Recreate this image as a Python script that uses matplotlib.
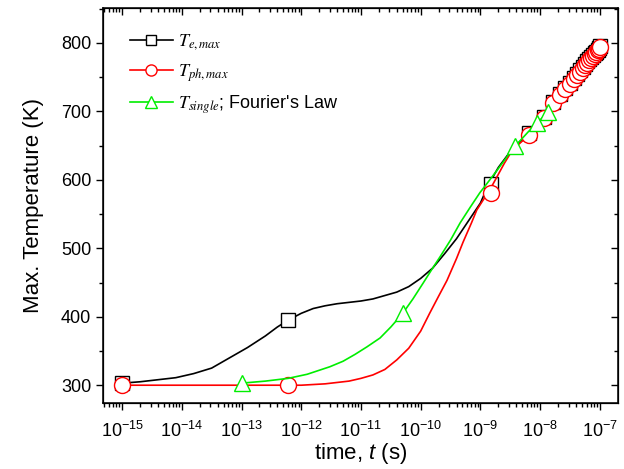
import numpy as np
import matplotlib
matplotlib.use('Agg')
import matplotlib.pyplot as plt
from matplotlib.ticker import FixedLocator, LogFormatterSciNotation, MultipleLocator, NullFormatter

plt.rcParams['font.family'] = ['Liberation Sans', 'DejaVu Sans']
plt.rcParams['mathtext.fontset'] = 'custom'
plt.rcParams['mathtext.rm'] = 'Liberation Sans'
plt.rcParams['mathtext.it'] = 'Liberation Sans:italic'

# curves (log10 time, temperature K)
e_logt = [-15.0, -14.7, -14.4, -14.1, -13.8, -13.5, -13.2, -12.9, -12.6, -12.4,
          -12.22, -12.0, -11.8, -11.6, -11.4, -11.2, -11.0, -10.8, -10.6, -10.4,
          -10.2, -10.0, -9.8, -9.6, -9.4, -9.2, -9.0, -8.87, -8.7, -8.46,
          -8.19, -7.94, -7.78, -7.67, -7.50, -7.38, -7.29, -7.21, -7.15, -7.09,
          -7.04, -6.99]
e_T = [303, 305, 308, 311, 317, 325, 340, 355, 372, 385,
       395, 405, 412, 416, 419, 421, 423, 426, 431, 436,
       444, 456, 471, 492, 514, 540, 566, 592, 618, 646,
       668, 692, 713, 725, 742, 755, 765, 773, 779, 785,
       790, 795]

ph_logt = [-15.0, -12.0, -11.8, -11.6, -11.4, -11.2, -11.0, -10.8, -10.6, -10.4,
           -10.2, -10.0, -9.85, -9.7, -9.56, -9.4, -9.29, -9.15, -9.06, -8.95,
           -8.87, -8.75, -8.6, -8.46, -8.19, -7.94, -7.78, -7.67, -7.50, -7.38,
           -7.29, -7.21, -7.15, -7.09, -7.04, -6.99]
ph_T = [300, 300, 301, 302, 304, 306, 310, 315, 323, 337,
        354, 379, 405, 430, 453, 485, 509, 537, 556, 571,
        581, 600, 624, 644, 665, 690, 712, 724, 740, 753,
        763, 771, 778, 784, 789, 794]

single_logt = [-13.0, -12.6, -12.22, -11.9, -11.52, -11.3, -11.1, -10.9, -10.68, -10.5,
               -10.3, -10.13, -9.96, -9.8, -9.68, -9.5, -9.34, -9.17, -9.01, -8.86,
               -8.72, -8.51, -8.42, -8.2, -8.05, -7.87]
single_T = [303, 306, 310, 316, 327, 335, 345, 356, 369, 385,
            405, 426, 449, 471, 487, 512, 537, 560, 581, 598,
            614, 639, 649, 670, 683, 699]

# marker points
e_mt = [1e-15, 6e-13, 1.5e-9, 6.5e-9, 11.5e-9, 16.5e-9, 21.5e-9, 26.5e-9, 31.5e-9, 36.5e-9,
        41.5e-9, 46.5e-9, 51.5e-9, 56.5e-9, 61.5e-9, 66.5e-9, 71.5e-9, 76.5e-9, 81.5e-9,
        86.5e-9, 91.5e-9, 96.5e-9, 101.5e-9]
e_mT = [303, 395, 594, 668, 692, 713, 725, 734, 742, 749,
        755, 760, 765, 769, 773, 776, 779, 782, 785,
        787, 790, 792, 795]
ph_mt = e_mt
ph_mT = [300, 300, 581, 665, 690, 712, 724, 732, 740, 747,
         753, 758, 763, 767, 771, 775, 778, 781, 784,
         786, 789, 791, 794]
single_mt = [1e-13, 5e-11, 3.8e-9, 8.8e-9, 13.8e-9]
single_mT = [303, 405, 649, 683, 699]

x_decades = list(range(-15, -6))

fig = plt.figure(figsize=(6.24, 4.69), dpi=100)
ax = fig.add_axes([0.165, 0.1407, 0.825, 0.8423])

lw = 1.2
green = '#00ee00'
ax.plot(10.0 ** np.array(e_logt), e_T, color='black', lw=lw)
ax.plot(e_mt, e_mT, ls='none', marker='s', ms=9.5, mfc='white', mec='black', mew=1.0)
ax.plot(10.0 ** np.array(ph_logt), ph_T, color='red', lw=lw)
ax.plot(ph_mt, ph_mT, ls='none', marker='o', ms=11.5, mfc='white', mec='red', mew=1.0)
ax.plot(10.0 ** np.array(single_logt), single_T, color=green, lw=lw)
ax.plot(single_mt, single_mT, ls='none', marker='^', ms=11.5, mfc='white', mec=green, mew=1.0)

# legend handles
h1, = ax.plot([], [], color='black', lw=lw, marker='s', ms=7, mfc='white', mec='black')
h2, = ax.plot([], [], color='red', lw=lw, marker='o', ms=8, mfc='white', mec='red')
h3, = ax.plot([], [], color=green, lw=lw, marker='^', ms=8, mfc='white', mec=green)
ax.legend([h1, h2, h3],
          [r'$T_{e,max}$', r'$T_{ph,max}$', r"$T_{single}$; Fourier's Law"],
          loc='upper left', bbox_to_anchor=(0.02, 0.98), frameon=False,
          prop=dict(size=13, math_fontfamily='stix'),
          handlelength=2.4, handletextpad=0.3, labelspacing=0.55)

ax.set_xscale('log')
ax.set_xlim(10 ** -15.32, 10 ** -6.70)
ax.set_ylim(274, 851)

major_x = [10.0 ** k for k in x_decades]
minor_x = [m * 10.0 ** k for k in range(-16, -6) for m in range(2, 10)
           if 10 ** -15.32 < m * 10.0 ** k < 10 ** -6.70]
ax.xaxis.set_major_locator(FixedLocator(major_x))
ax.xaxis.set_major_formatter(LogFormatterSciNotation())
ax.xaxis.set_minor_locator(FixedLocator(minor_x))
ax.xaxis.set_minor_formatter(NullFormatter())
ax.yaxis.set_major_locator(MultipleLocator(100))
ax.yaxis.set_minor_locator(MultipleLocator(50))

ax.tick_params(which='both', direction='out', labelsize=13, width=1.0)
ax.tick_params(which='major', length=5)
ax.tick_params(which='minor', length=3)
ax.tick_params(axis='x', which='major', pad=8)
for s in ax.spines.values():
    s.set_linewidth(1.1)

# mirrored inward ticks on top and right
axt = ax.twiny()
axt.set_xscale('log')
axt.set_xlim(ax.get_xlim())
axt.xaxis.set_major_locator(FixedLocator(major_x))
axt.xaxis.set_minor_locator(FixedLocator(minor_x))
axt.xaxis.set_major_formatter(NullFormatter())
axt.xaxis.set_minor_formatter(NullFormatter())
axt.tick_params(which='both', direction='in', labeltop=False, width=1.0)
axt.tick_params(which='major', length=5)
axt.tick_params(which='minor', length=3)
axr = ax.twinx()
axr.set_ylim(ax.get_ylim())
axr.yaxis.set_major_locator(MultipleLocator(100))
axr.yaxis.set_minor_locator(MultipleLocator(50))
axr.yaxis.set_major_formatter(NullFormatter())
axr.tick_params(which='both', direction='in', labelright=False, width=1.0)
axr.tick_params(which='major', length=5)
axr.tick_params(which='minor', length=3)

ax.set_xlabel(r'time, $t$ (s)', fontsize=16, labelpad=0)
ax.set_ylabel('Max. Temperature (K)', fontsize=16, labelpad=12)

fig.savefig('out.png', dpi=100)
